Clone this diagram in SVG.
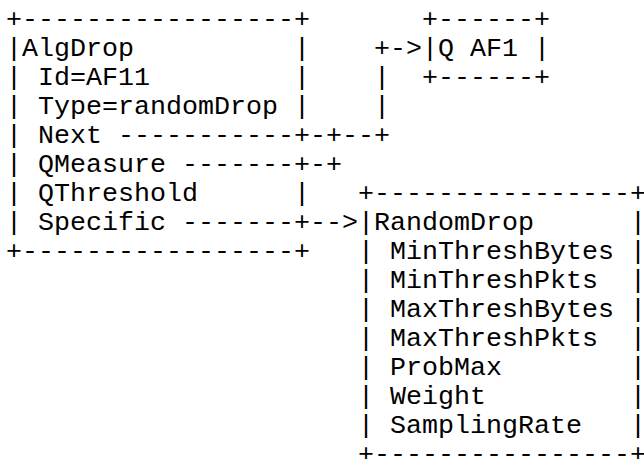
<svg xmlns="http://www.w3.org/2000/svg" width="644" height="459" viewBox="0 0 644 459">
<style>
text{font-family:"Liberation Mono","Courier New",monospace;font-size:26.67px;fill:#000;white-space:pre}
</style>
<rect width="644" height="459" fill="#fff"/>
<g id="algdrop">
<text x="6" y="27" xml:space="preserve">+-----------------+</text>
<text x="6" y="56" xml:space="preserve">|AlgDrop          |</text>
<text x="6" y="85" xml:space="preserve">| Id=AF11         |</text>
<text x="6" y="114" xml:space="preserve">| Type=randomDrop |</text>
<text x="6" y="143" xml:space="preserve">| Next -----------+</text>
<text x="6" y="172" xml:space="preserve">| QMeasure -------+</text>
<text x="6" y="201" xml:space="preserve">| QThreshold      |</text>
<text x="6" y="230" xml:space="preserve">| Specific -------+</text>
<text x="6" y="259" xml:space="preserve">+-----------------+</text>
</g>
<g id="qaf1">
<text x="422" y="27" xml:space="preserve">+------+</text>
<text x="422" y="56" xml:space="preserve">|Q AF1 |</text>
<text x="422" y="85" xml:space="preserve">+------+</text>
</g>
<g id="randomdrop">
<text x="358" y="201" xml:space="preserve">+----------------+</text>
<text x="358" y="230" xml:space="preserve">|RandomDrop      |</text>
<text x="358" y="259" xml:space="preserve">| MinThreshBytes |</text>
<text x="358" y="288" xml:space="preserve">| MinThreshPkts  |</text>
<text x="358" y="317" xml:space="preserve">| MaxThreshBytes |</text>
<text x="358" y="346" xml:space="preserve">| MaxThreshPkts  |</text>
<text x="358" y="375" xml:space="preserve">| ProbMax        |</text>
<text x="358" y="404" xml:space="preserve">| Weight         |</text>
<text x="358" y="433" xml:space="preserve">| SamplingRate   |</text>
<text x="358" y="462" xml:space="preserve">+----------------+</text>
</g>
<g id="connectors">
<text x="374" y="56" xml:space="preserve">+-&gt;</text>
<text x="374" y="85" xml:space="preserve">|</text>
<text x="374" y="114" xml:space="preserve">|</text>
<text x="310" y="143" xml:space="preserve">-+--+</text>
<text x="310" y="172" xml:space="preserve">-+</text>
<text x="310" y="230" xml:space="preserve">--&gt;</text>
</g>
</svg>
